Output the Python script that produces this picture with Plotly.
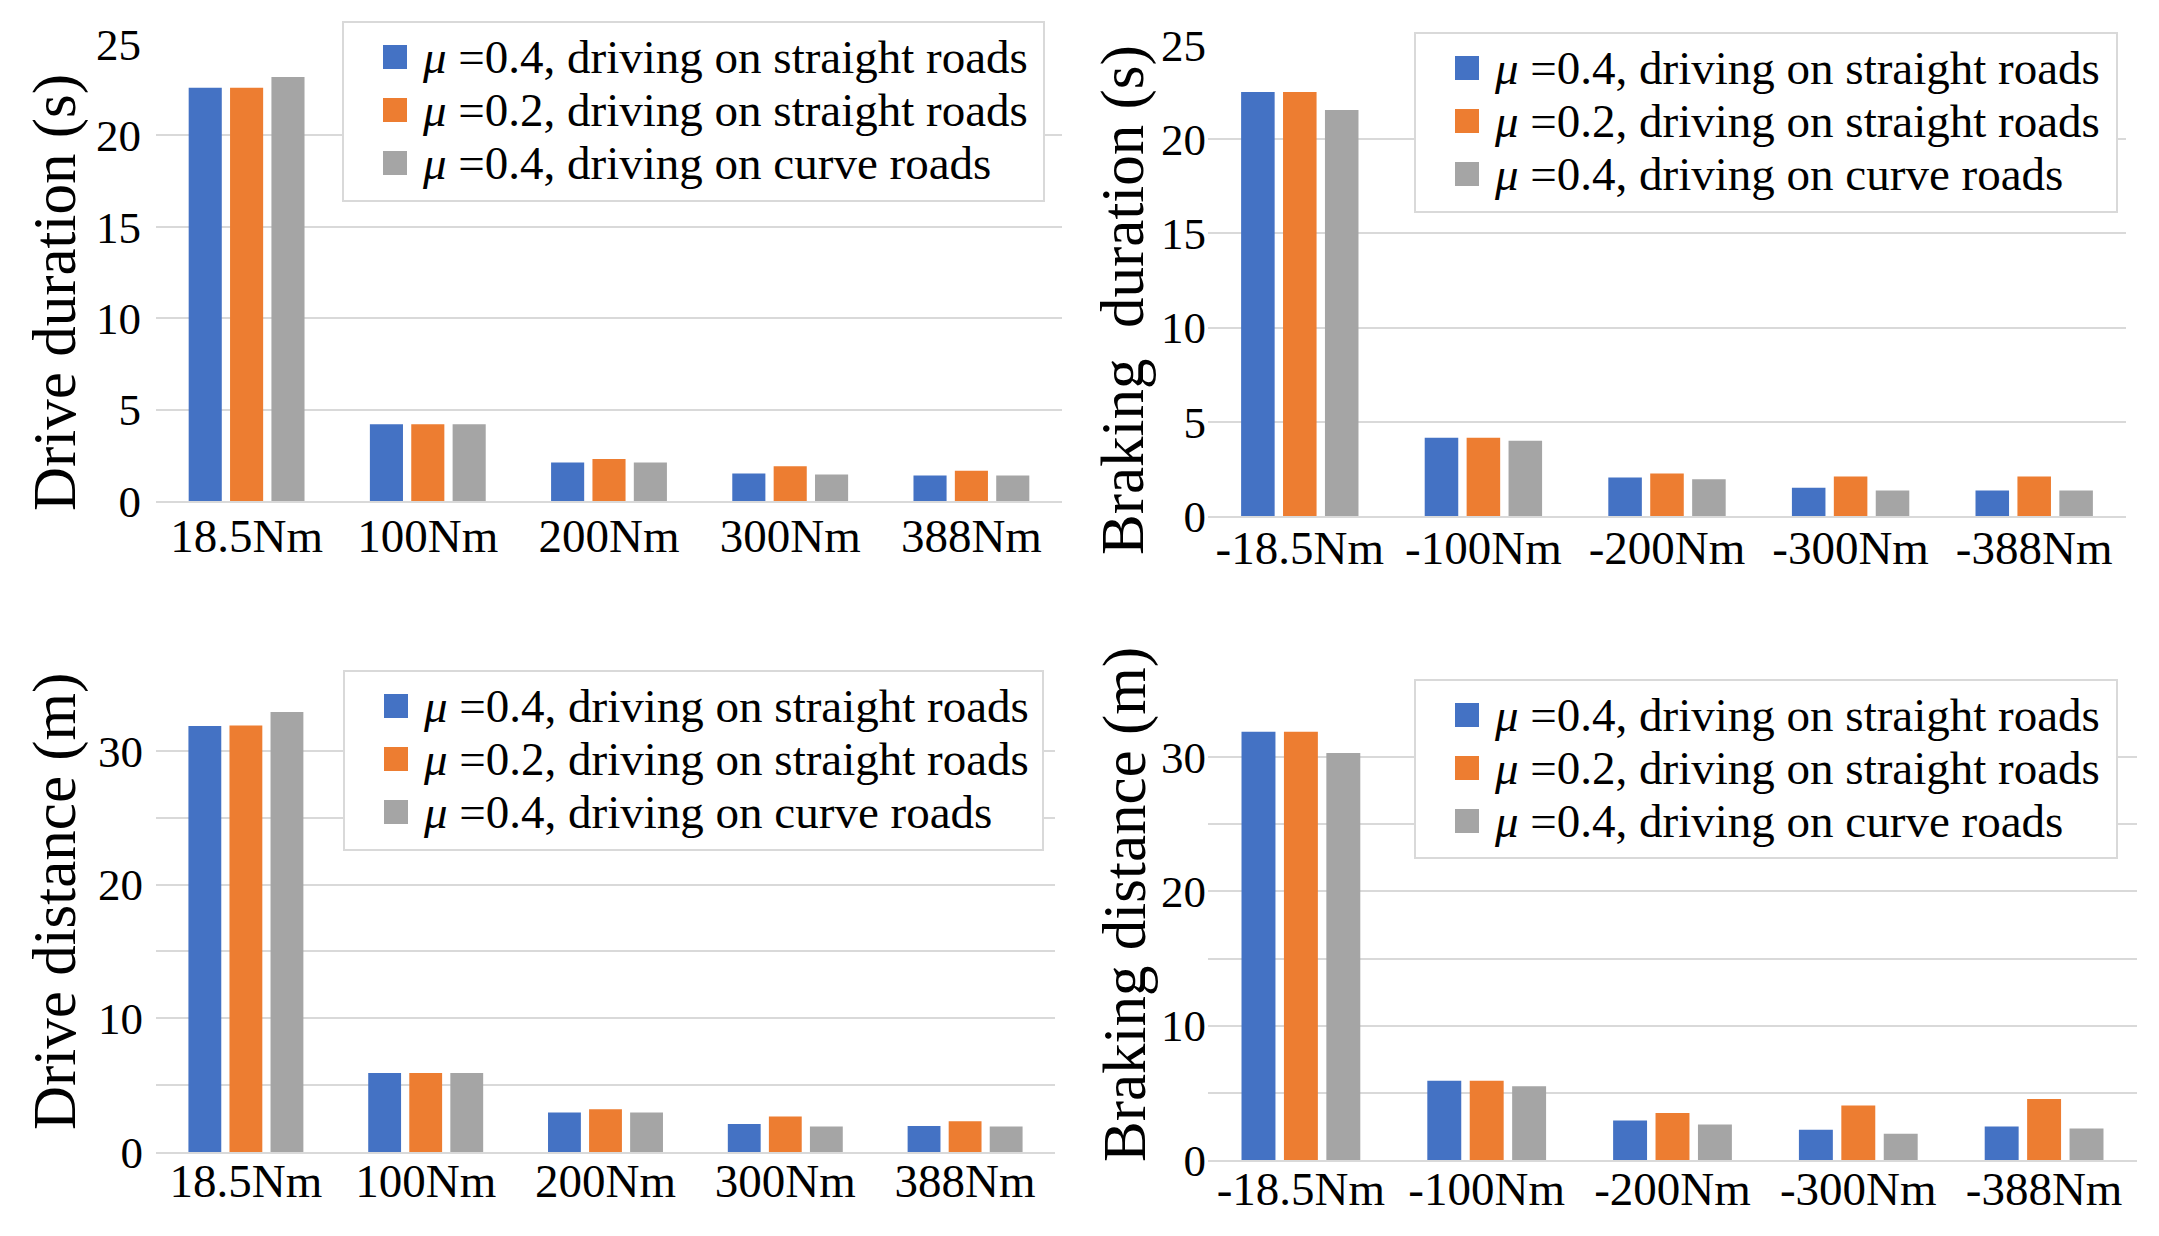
import plotly.graph_objects as go

# ---------------- data ----------------
drive_torques = ["18.5Nm", "100Nm", "200Nm", "300Nm", "388Nm"]
brake_torques = ["-18.5Nm", "-100Nm", "-200Nm", "-300Nm", "-388Nm"]

series_names = [
    "<i>μ</i> =0.4, driving on straight roads",
    "<i>μ</i> =0.2, driving on straight roads",
    "<i>μ</i> =0.4, driving on curve roads",
]

drive_dur_s04 = [22.6, 4.2, 2.1, 1.5, 1.4]
drive_dur_s02 = [22.6, 4.2, 2.3, 1.9, 1.65]
drive_dur_c04 = [23.2, 4.2, 2.1, 1.45, 1.4]

brake_dur_s04 = [22.5, 4.15, 2.05, 1.5, 1.35]
brake_dur_s02 = [22.5, 4.15, 2.25, 2.1, 2.1]
brake_dur_c04 = [21.55, 4.0, 1.95, 1.35, 1.35]

drive_dist_s04 = [31.85, 5.9, 2.95, 2.1, 1.95]
drive_dist_s02 = [31.9, 5.9, 3.2, 2.65, 2.3]
drive_dist_c04 = [32.9, 5.9, 2.95, 1.9, 1.9]

brake_dist_s04 = [31.9, 5.9, 2.95, 2.25, 2.5]
brake_dist_s02 = [31.9, 5.9, 3.5, 4.05, 4.55]
brake_dist_c04 = [30.3, 5.5, 2.65, 1.95, 2.35]

y_titles = ["Drive duration (s)", "Braking\u00a0\u00a0duration (s)",
            "Drive distance (m)", "Braking distance (m)"]

# ---------------- styling ----------------
W, H = 2159, 1236
FONT = "Liberation Serif, Times New Roman, serif"
colors = ["#4472C4", "#ED7D31", "#A5A5A5"]
GRID = "#D9D9D9"


def px(x):
    return x / W


def py(y):
    return 1 - y / H


panels = [
    dict(cats=drive_torques, vals=[drive_dur_s04, drive_dur_s02, drive_dur_c04],
         plot=(156, 44, 1062, 501), rng=[0, 25], dtick=5, minor=None,
         title_xy=(55, 293), legend=(343, 22, 1044, 201),
         ystand=14, xstand=-7),
    dict(cats=brake_torques, vals=[brake_dur_s04, brake_dur_s02, brake_dur_c04],
         plot=(1208, 45, 2126, 516), rng=[0, 25], dtick=5, minor=None,
         title_xy=(1123, 300), legend=(1415, 33, 2117, 212),
         ystand=1, xstand=-10),
    dict(cats=drive_torques, vals=[drive_dist_s04, drive_dist_s02, drive_dist_c04],
         plot=(156, 684, 1055, 1152), rng=[0, 35], dtick=10, minor=5,
         title_xy=(55, 902), legend=(344, 671, 1043, 850),
         ystand=12, xstand=-13),
    dict(cats=brake_torques, vals=[brake_dist_s04, brake_dist_s02, brake_dist_c04],
         plot=(1208, 690, 2137, 1160), rng=[0, 35], dtick=10, minor=5,
         title_xy=(1125, 905), legend=(1415, 680, 2117, 858),
         ystand=1, xstand=-13),
]

fig = go.Figure()
layout = dict(
    template="none",
    width=W, height=H, autosize=False,
    margin=dict(l=0, r=0, t=0, b=0, autoexpand=False),
    paper_bgcolor="white", plot_bgcolor="white",
    barmode="group", bargap=0.315, bargroupgap=0.2,
    showlegend=False,
    font=dict(family=FONT, color="black"),
)
annotations = []
shapes = []

for i, p in enumerate(panels, start=1):
    xa = "x" if i == 1 else f"x{i}"
    ya = "y" if i == 1 else f"y{i}"
    for k in range(3):
        fig.add_trace(go.Bar(
            x=p["cats"], y=p["vals"][k], name=series_names[k],
            marker=dict(color=colors[k], line=dict(width=0)),
            xaxis=xa, yaxis=ya, showlegend=False,
        ))
    x0, y0, x1, y1 = p["plot"]
    xkey = "xaxis" if i == 1 else f"xaxis{i}"
    ykey = "yaxis" if i == 1 else f"yaxis{i}"
    layout[xkey] = dict(
        domain=[px(x0), px(x1)], anchor=ya, type="category", automargin=False,
        showgrid=False, showline=True, linecolor=GRID, linewidth=2,
        ticks="", tickfont=dict(family=FONT, size=47, color="black"),
        ticklabelstandoff=p["xstand"], fixedrange=True,
    )
    yax = dict(
        domain=[py(y1), py(y0)], anchor=xa, range=p["rng"], dtick=p["dtick"],
        tick0=0, showgrid=True, gridcolor=GRID, gridwidth=2, zeroline=False,
        automargin=False, showline=False, ticks="",
        tickfont=dict(family=FONT, size=45, color="black"),
        ticklabelstandoff=p["ystand"], fixedrange=True,
    )
    if p["minor"]:
        yax["minor"] = dict(dtick=p["minor"], tick0=0, showgrid=True,
                            gridcolor=GRID, gridwidth=2)
    layout[ykey] = yax

    # y-axis title
    tx, ty = p["title_xy"]
    annotations.append(dict(
        text=y_titles[i - 1], x=px(tx), y=py(ty), xref="paper", yref="paper",
        textangle=-90, showarrow=False, xanchor="center", yanchor="middle",
        font=dict(family=FONT, size=61, color="black"),
    ))

    # legend box
    lx0, ly0, lx1, ly1 = p["legend"]
    shapes.append(dict(
        type="rect", xref="paper", yref="paper",
        x0=px(lx0), x1=px(lx1), y0=py(ly1), y1=py(ly0),
        line=dict(color=GRID, width=2), fillcolor="white", layer="above",
    ))
    for k in range(3):
        cy = ly0 + 35 + 53 * k
        shapes.append(dict(
            type="rect", xref="paper", yref="paper",
            x0=px(lx0 + 40), x1=px(lx0 + 64), y0=py(cy + 12), y1=py(cy - 12),
            line=dict(width=0), fillcolor=colors[k], layer="above",
        ))
        annotations.append(dict(
            text=series_names[k], x=px(lx0 + 77), y=py(cy), xref="paper",
            yref="paper", showarrow=False, xanchor="left", yanchor="middle",
            font=dict(family=FONT, size=47, color="black"),
        ))

layout["annotations"] = annotations
layout["shapes"] = shapes
fig.update_layout(**layout)

fig.write_html("out.html", config={"displayModeBar": False, "staticPlot": True},
               post_script="document.body.style.margin='0px';")
